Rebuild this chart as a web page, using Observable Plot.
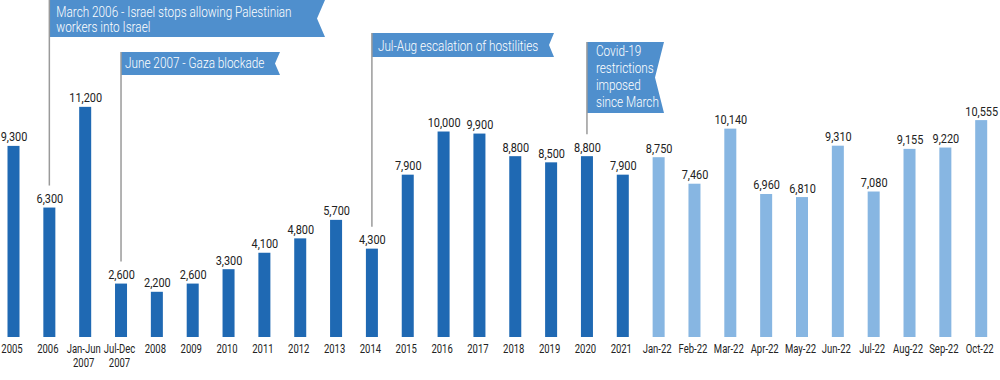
<!DOCTYPE html>
<html>
<head>
<meta charset="utf-8">
<script src="https://cdn.jsdelivr.net/npm/d3@7"></script>
<script src="https://cdn.jsdelivr.net/npm/@observablehq/plot@0.6"></script>
<style>
  html, body { margin: 0; padding: 0; background: #fff; }
  #chart svg { display: block; }
</style>
</head>
<body>
<div id="chart"></div>
<script>
// ---- data ----
const categories = ["2005","2006","Jan-Jun\n2007","Jul-Dec\n2007","2008","2009","2010","2011","2012","2013","2014","2015","2016","2017","2018","2019","2020","2021","Jan-22","Feb-22","Mar-22","Apr-22","May-22","Jun-22","Jul-22","Aug-22","Sep-22","Oct-22"];
const values = [9300,6300,11200,2600,2200,2600,3300,4100,4800,5700,4300,7900,10000,9900,8800,8500,8800,7900,8750,7460,10140,6960,6810,9310,7080,9155,9220,10555];
const periodType = ["annual","annual","half","half","annual","annual","annual","annual","annual","annual","annual","annual","annual","annual","annual","annual","annual","annual","monthly","monthly","monthly","monthly","monthly","monthly","monthly","monthly","monthly","monthly"];
const annotationCategories = ["2006","Jul-Dec\n2007","2014","2020"];
const annotationTexts = [
  "March 2006 - Israel stops allowing Palestinian\nworkers into Israel",
  "June 2007 - Gaza blockade",
  "Jul-Aug escalation of hostilities",
  "Covid-19\nrestrictions\nimposed\nsince March"
];

const rows = categories.map((c, i) => ({category: c, value: values[i], type: periodType[i] === "monthly" ? "monthly" : "annual"}));

const FONT = "Roboto, 'Liberation Sans', sans-serif";

const plot = Plot.plot({
  width: 1000,
  height: 380,
  marginTop: 0,
  marginBottom: 43,
  marginLeft: 7.5,
  marginRight: 12.8,
  style: {fontFamily: FONT, color: "#333", background: "#fff"},
  x: {domain: categories, paddingInner: 0.665, paddingOuter: 0, round: false, label: null},
  y: {domain: [0, 16400], axis: null},
  color: {domain: ["annual", "monthly"], range: ["#1f69b3", "#87b6e2"]},
  marks: [
    Plot.barY(rows, {x: "category", y: "value", fill: "type"}),
    Plot.text(rows, {x: "category", y: "value", text: d => d3.format(",")(d.value), lineAnchor: "bottom", dy: -5, fontSize: 13, fill: "#222"}),
    Plot.axisX({tickSize: 0, tickPadding: 6, fontSize: 12, lineHeight: 1.15, dx: -2, label: null, fill: "#222"})
  ]
});

document.getElementById("chart").appendChild(plot);

// ---- annotation flags (layout) ----
const xs = plot.scale("x");
const ys = plot.scale("y");
const layout = [
  {top: 0, bottom: 37, right: 325, notch: 8, lineH: 15, firstBase: 16.5, pad: 7},
  {top: 52, bottom: 75, right: 280, notch: 5, lineH: 15, firstBase: 68, pad: 4},
  {top: 33, bottom: 57, right: 554, notch: 5, lineH: 15, firstBase: 50.5, pad: 6},
  {top: 42, bottom: 113, right: 664, notch: 9, lineH: 17, firstBase: 56, pad: 9}
];
const svg = d3.select(plot);
const g = svg.append("g").attr("class", "annotations");
annotationCategories.forEach((cat, i) => {
  const L = layout[i];
  const idx = categories.indexOf(cat);
  const cx = xs.apply(cat) + xs.bandwidth / 2;
  const barTop = ys.apply(values[idx]);
  const mid = (L.top + L.bottom) / 2;
  g.append("path")
    .attr("d", `M${cx},${L.top}H${L.right}L${L.right - L.notch},${mid}L${L.right},${L.bottom}H${cx}Z`)
    .attr("fill", "#4f8fcd");
  const t = g.append("text")
    .attr("fill", "#fff")
    .attr("font-size", 14)
    .attr("font-weight", 300)
    .attr("text-anchor", "start")
    .attr("font-family", FONT);
  annotationTexts[i].split("\n").forEach((line, j) => {
    t.append("tspan").attr("x", cx + L.pad).attr("y", L.firstBase + j * L.lineH).text(line);
  });
  g.append("line")
    .attr("x1", cx).attr("x2", cx)
    .attr("y1", L.top).attr("y2", barTop - 22)
    .attr("stroke", "#9a9a9a").attr("stroke-width", 1.5);
});

// condensed look: compress each text run horizontally
function condense(selector, ratio) {
  plot.querySelectorAll(selector).forEach(t => {
    const spans = t.querySelectorAll("tspan");
    const runs = spans.length ? Array.from(spans) : [t];
    runs.forEach(r => {
      const len = r.getComputedTextLength();
      if (len > 0) {
        r.setAttribute("textLength", (len * ratio).toFixed(2));
        r.setAttribute("lengthAdjust", "spacingAndGlyphs");
      }
    });
  });
}
condense("g[aria-label='x-axis tick label'] text", 0.79);
condense("g[aria-label='text'] text", 0.84);
condense("g.annotations text", 0.84);
</script>
</body>
</html>
